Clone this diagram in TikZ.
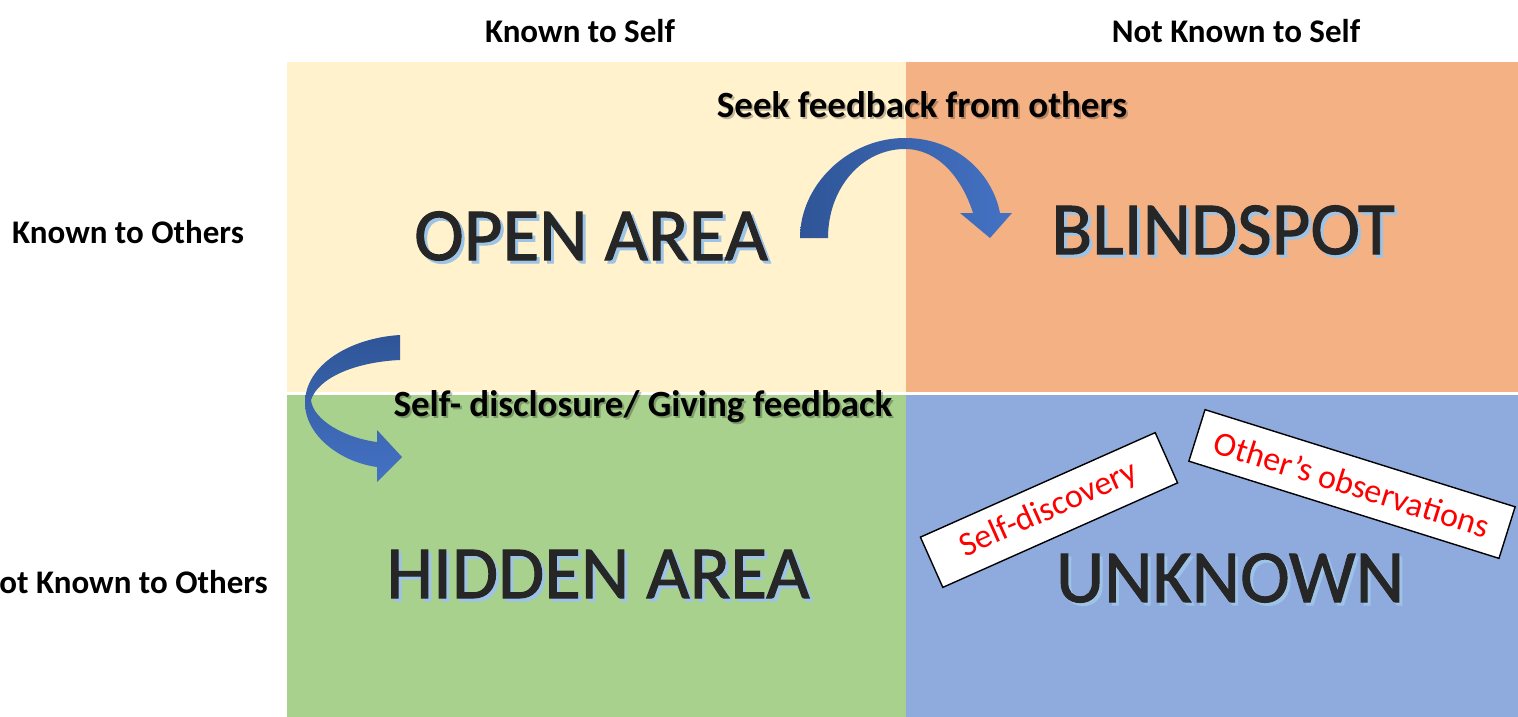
\documentclass[tikz,border=0pt]{standalone}
\usepackage{fontspec}
\setmainfont{Carlito}
\newfontface\titleface[FakeBold=1.3]{Carlito}
\definecolor{openc}{HTML}{FFF2CC}
\definecolor{blindc}{HTML}{F4B183}
\definecolor{hiddenc}{HTML}{A9D18E}
\definecolor{unknownc}{HTML}{8FAADC}
\definecolor{arrowdark}{HTML}{2F5597}
\definecolor{arrowlight}{HTML}{4472C4}
\definecolor{shadowblue}{HTML}{9DC3E6}
\definecolor{inkdark}{HTML}{262626}
\begin{document}
\begin{tikzpicture}[x=1pt,y=-1pt,
  quad/.style={draw=none, inner sep=0, anchor=north west},
  axislabel/.style={font=\fontsize{33}{40}\selectfont\bfseries, anchor=base, inner sep=0, text=black},
  actlabel/.style={font=\fontsize{37}{44}\selectfont\bfseries, anchor=base, inner sep=0, text=black},
  actshadow/.style={actlabel, text=black, opacity=0.25, xshift=2pt, yshift=-2.5pt},
  bigtxt/.style={font=\titleface\fontsize{75}{80}\selectfont, inner sep=0, text=inkdark},
  bigshadow/.style={bigtxt, text=shadowblue, xshift=3pt, yshift=-3pt},
  tagbox/.style={draw=black, line width=1.4pt, fill=white, inner sep=0,
    text=red, font=\fontsize{34}{40}\selectfont},
  blockarrow/.style={draw=none}
]
\useasboundingbox (0,0) rectangle (1518,717);
\fill[white] (0,0) rectangle (1518,717);

% the four panes of the window
\node[quad, fill=openc,    minimum width=619, minimum height=330] (open)    at (287,62)  {};
\node[quad, fill=blindc,   minimum width=612, minimum height=330] (blind)   at (906,62)  {};
\node[quad, fill=hiddenc,  minimum width=619, minimum height=322] (hidden)  at (287,395) {};
\node[quad, fill=unknownc, minimum width=612, minimum height=322] (unknown) at (906,395) {};

% axis headings
\node[axislabel] (kself)    at (580,43)  {Known to Self};
\node[axislabel] (nkself)   at (1236,43) {Not Known to Self};
\node[axislabel] (kothers)  at (128,243) {Known to Others};
\node[axislabel, anchor=base east] (nkothers) at (268,593) {Not Known to Others};

% curved arrow: open area -> blind spot
\path[blockarrow, left color=arrowdark, right color=arrowlight]
  (800,238) .. controls (800,185) and (848,138) .. (905,138)
  .. controls (955,138) and (992,172) .. (1000,213)
  -- (1012,213) -- (990,238) -- (960,213) -- (973,213)
  .. controls (962,178) and (938,149) .. (905,149)
  .. controls (862,149) and (828,188) .. (828,238) -- cycle;

% curved arrow: open area -> hidden area
\path[blockarrow, top color=arrowdark, bottom color=arrowlight]
  (400,335) .. controls (350,338) and (305,365) .. (305,403)
  .. controls (305,435) and (340,462) .. (377,467)
  -- (377,482) -- (402,457) -- (377,430) -- (377,442)
  .. controls (345,438) and (313,420) .. (311,400)
  .. controls (318,378) and (355,362) .. (400,360) -- cycle;

% arrow captions
\node[actshadow] at (922,117) {Seek feedback from others};
\node[actlabel] (seek) at (922,117) {Seek feedback from others};
\node[actshadow] at (643,416) {Self- disclosure/ Giving feedback};
\node[actlabel] (disclose) at (643,416) {Self- disclosure/ Giving feedback};

% pane titles
\node[bigshadow] at (591,236) {OPEN AREA};
\node[bigtxt] (opent) at (591,236) {OPEN AREA};
\node[bigshadow] at (1223,230) {BLINDSPOT};
\node[bigtxt] (blindt) at (1223,230) {BLINDSPOT};
\node[bigshadow] at (598,574) {HIDDEN AREA};
\node[bigtxt] (hiddent) at (598,574) {HIDDEN AREA};
\node[bigshadow] at (1230,578) {UNKNOWN};
\node[bigtxt] (unknownt) at (1230,578) {UNKNOWN};

% ways into the unknown
\node[tagbox, minimum width=257, minimum height=55, rotate=24] (selfdisc) at (1049,510) {Self-discovery};
\node[tagbox, minimum width=325, minimum height=54, rotate=-17.4] (othobs) at (1352,484) {Other’s observations};
\end{tikzpicture}
\end{document}
